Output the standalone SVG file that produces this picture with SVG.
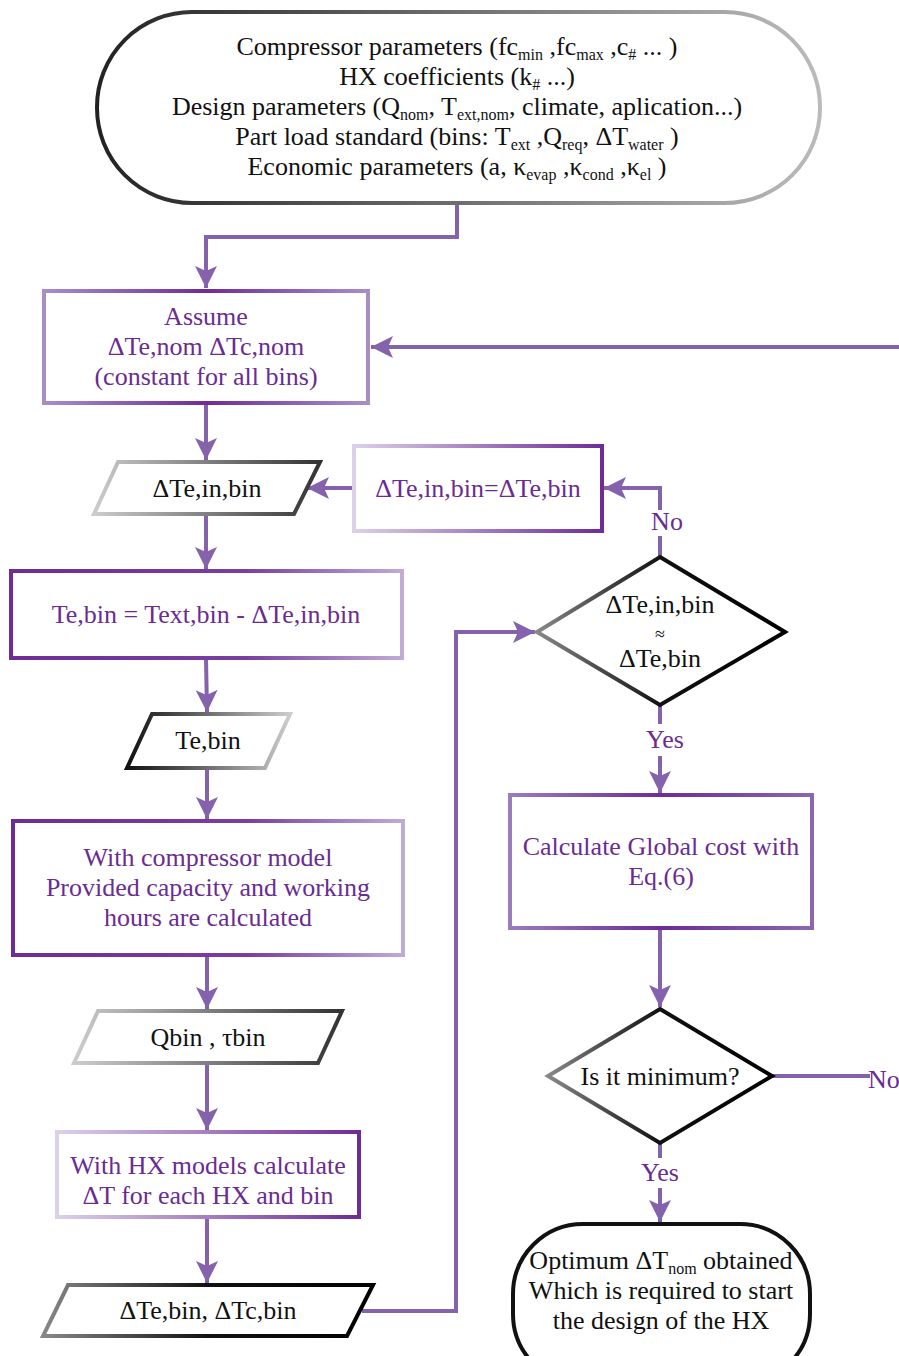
<svg xmlns="http://www.w3.org/2000/svg" width="899" height="1356" viewBox="0 0 899 1356">
<style>
text{font-family:"Liberation Serif","Times New Roman",serif;font-size:26px;text-anchor:middle}
.p{fill:#6a2c91}
.k{fill:#111}
.s{font-size:16px}
.con{fill:none;stroke:#8462ac;stroke-width:4}
.nd{fill:#fff;stroke-width:4}
</style>
<defs>
<marker id="ar" markerUnits="userSpaceOnUse" markerWidth="24" markerHeight="22" refX="22" refY="11" orient="auto">
<path d="M0,0 L22,11 L0,22 L5,11 z" fill="#8462ac"/>
</marker>
<linearGradient id="gTop" x1="0" y1="0" x2="1" y2="0"><stop offset="0" stop-color="#222"/><stop offset="1" stop-color="#bbb"/></linearGradient>
<linearGradient id="gLD" x1="0" y1="0" x2="1" y2="0"><stop offset="0" stop-color="#ccc"/><stop offset="1" stop-color="#333"/></linearGradient>
<linearGradient id="gDL" x1="0" y1="0" x2="1" y2="0"><stop offset="0" stop-color="#111"/><stop offset="1" stop-color="#ccc"/></linearGradient>
<linearGradient id="gGD" x1="0" y1="0" x2="1" y2="0"><stop offset="0" stop-color="#888"/><stop offset="0.5" stop-color="#111"/><stop offset="1" stop-color="#000"/></linearGradient>
<linearGradient id="pMid" x1="0" y1="0" x2="1" y2="0"><stop offset="0" stop-color="#a98ec6"/><stop offset="0.5" stop-color="#6f2c97"/><stop offset="1" stop-color="#a98ec6"/></linearGradient>
<linearGradient id="pLD" x1="0" y1="0" x2="1" y2="0"><stop offset="0" stop-color="#dcd0e8"/><stop offset="1" stop-color="#6f2c97"/></linearGradient>
<linearGradient id="pDL" x1="0" y1="0" x2="1" y2="0"><stop offset="0" stop-color="#6f2c97"/><stop offset="0.6" stop-color="#7a3ea0"/><stop offset="1" stop-color="#c0aad6"/></linearGradient>
<linearGradient id="pCalc" x1="0" y1="0" x2="1" y2="0"><stop offset="0" stop-color="#9a7cbc"/><stop offset="0.5" stop-color="#6f2c97"/><stop offset="1" stop-color="#8a66b0"/></linearGradient>
</defs>

<g id="connectors">
<polyline class="con" points="457,203 457,237 206,237 206,288" marker-end="url(#ar)"/>
<line class="con" x1="899" y1="347" x2="371" y2="347" marker-end="url(#ar)"/>
<line class="con" x1="206" y1="403" x2="206" y2="460" marker-end="url(#ar)"/>
<line class="con" x1="354" y1="488" x2="307" y2="488" marker-end="url(#ar)"/>
<polyline class="con" points="660,557 660,536"/>
<polyline class="con" points="660,510 660,488 604,488" marker-end="url(#ar)"/>
<line class="con" x1="206" y1="514" x2="206" y2="569" marker-end="url(#ar)"/>
<line class="con" x1="206" y1="658" x2="207" y2="712" marker-end="url(#ar)"/>
<line class="con" x1="207" y1="768" x2="207" y2="819" marker-end="url(#ar)"/>
<line class="con" x1="207" y1="955" x2="207" y2="1009" marker-end="url(#ar)"/>
<line class="con" x1="207" y1="1063" x2="207" y2="1130" marker-end="url(#ar)"/>
<line class="con" x1="207" y1="1217" x2="207" y2="1283" marker-end="url(#ar)"/>
<polyline class="con" points="362,1311 456,1311 456,632 535,632" marker-end="url(#ar)"/>
<line class="con" x1="660" y1="705" x2="660" y2="724"/>
<line class="con" x1="660" y1="756" x2="660" y2="793" marker-end="url(#ar)"/>
<line class="con" x1="660" y1="928" x2="660" y2="1007" marker-end="url(#ar)"/>
<line class="con" x1="772" y1="1076" x2="870" y2="1076"/>
<line class="con" x1="660" y1="1143" x2="660" y2="1158"/>
<line class="con" x1="660" y1="1188" x2="660" y2="1222" marker-end="url(#ar)"/>
<text class="p" x="667" y="530">No</text>
<text class="p" x="665" y="748">Yes</text>
<text class="p" x="660" y="1181">Yes</text>
<text class="p" x="868" y="1088" style="text-anchor:start">No</text>
</g>

<g id="start">
<rect class="nd" x="97" y="12" width="723" height="191" rx="95" stroke="url(#gTop)"/>
<text class="k" x="457" y="55">Compressor parameters (fc<tspan class="s" dy="5">min</tspan><tspan dy="-5"> ,fc</tspan><tspan class="s" dy="5">max</tspan><tspan dy="-5"> ,c</tspan><tspan class="s" dy="5">#</tspan><tspan dy="-5"> ... )</tspan></text>
<text class="k" x="457" y="85">HX coefficients (k<tspan class="s" dy="5">#</tspan><tspan dy="-5"> ...)</tspan></text>
<text class="k" x="457" y="115">Design parameters  (Q<tspan class="s" dy="5">nom</tspan><tspan dy="-5">, T</tspan><tspan class="s" dy="5">ext,nom</tspan><tspan dy="-5">, climate, aplication...)</tspan></text>
<text class="k" x="457" y="145">Part load standard (bins: T<tspan class="s" dy="5">ext</tspan><tspan dy="-5"> ,Q</tspan><tspan class="s" dy="5">req</tspan><tspan dy="-5">, ΔT</tspan><tspan class="s" dy="5">water</tspan><tspan dy="-5"> )</tspan></text>
<text class="k" x="457" y="175">Economic parameters (a, κ<tspan class="s" dy="5">evap</tspan><tspan dy="-5"> ,κ</tspan><tspan class="s" dy="5">cond</tspan><tspan dy="-5"> ,κ</tspan><tspan class="s" dy="5">el</tspan><tspan dy="-5"> )</tspan></text>
</g>

<g id="assume">
<rect class="nd" x="44" y="291" width="324" height="112" stroke="url(#pMid)"/>
<text class="p" x="206" y="325">Assume</text>
<text class="p" x="206" y="355">ΔTe,nom ΔTc,nom</text>
<text class="p" x="206" y="385">(constant for all bins)</text>
</g>

<g id="dTe-in">
<polygon class="nd" points="118,462 320,462 294,514 94,514" stroke="url(#gLD)"/>
<text class="k" x="207" y="497">ΔTe,in,bin</text>
</g>

<g id="update">
<rect class="nd" x="354" y="446" width="248" height="85" stroke="url(#pLD)"/>
<text class="p" x="478" y="497">ΔTe,in,bin=ΔTe,bin</text>
</g>

<g id="te-calc">
<rect class="nd" x="11" y="571" width="391" height="87" stroke="url(#pDL)"/>
<text class="p" x="206" y="623">Te,bin = Text,bin - ΔTe,in,bin</text>
</g>

<g id="te-bin">
<polygon class="nd" points="152,714 290,714 265,768 127,768" stroke="url(#gDL)"/>
<text class="k" x="208" y="749">Te,bin</text>
</g>

<g id="compressor">
<rect class="nd" x="13" y="821" width="390" height="134" stroke="url(#pDL)"/>
<text class="p" x="208" y="866">With compressor model</text>
<text class="p" x="208" y="896">Provided capacity and working</text>
<text class="p" x="208" y="926">hours are calculated</text>
</g>

<g id="qbin">
<polygon class="nd" points="98,1011 342,1011 318,1063 74,1063" stroke="url(#gLD)"/>
<text class="k" x="208" y="1046">Qbin , τbin</text>
</g>

<g id="hx">
<rect class="nd" x="57" y="1132" width="302" height="85" stroke="url(#pLD)"/>
<text class="p" x="208" y="1174">With HX models calculate</text>
<text class="p" x="208" y="1204">ΔT for each HX and bin</text>
</g>

<g id="dT-bins">
<polygon class="nd" points="68,1285 373,1285 347,1336 43,1336" stroke="url(#gGD)"/>
<text class="k" x="208" y="1319">ΔTe,bin, ΔTc,bin</text>
</g>

<g id="check">
<polygon class="nd" points="660,557 785,632 660,705 537,632" stroke="url(#gGD)"/>
<text class="k" x="660" y="613">ΔTe,in,bin</text>
<text class="k" x="660" y="640" style="font-size:18px">≈</text>
<text class="k" x="660" y="667">ΔTe,bin</text>
</g>

<g id="cost">
<rect class="nd" x="510" y="795" width="302" height="133" stroke="url(#pCalc)"/>
<text class="p" x="661" y="855">Calculate Global cost with</text>
<text class="p" x="661" y="885">Eq.(6)</text>
</g>

<g id="minimum">
<polygon class="nd" points="660,1009 772,1076 660,1143 548,1076" stroke="url(#gGD)"/>
<text class="k" x="660" y="1085">Is it minimum?</text>
</g>

<g id="end">
<rect class="nd" x="513" y="1224" width="297" height="160" rx="70" stroke="#111"/>
<text class="k" x="661" y="1269">Optimum ΔT<tspan class="s" dy="5">nom</tspan><tspan dy="-5"> obtained</tspan></text>
<text class="k" x="661" y="1299">Which is required to start</text>
<text class="k" x="661" y="1329">the design of the HX</text>
</g>
</svg>
